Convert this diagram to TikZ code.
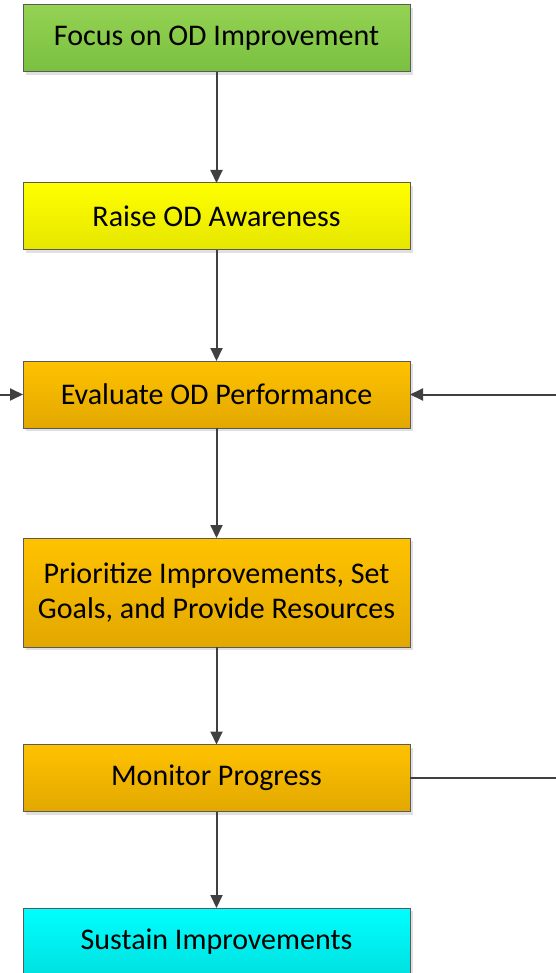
\documentclass[tikz,border=0pt]{standalone}
\usepackage{fontspec}
\setmainfont{Carlito}
\usetikzlibrary{arrows.meta,shadows}

\definecolor{linegray}{HTML}{404040}
\definecolor{edgegray}{HTML}{5A5A5A}

\begin{document}
\begin{tikzpicture}[x=1pt,y=-1pt,
    box/.style={draw=edgegray, line width=1pt, minimum width=387pt, minimum height=67pt,
      inner sep=0pt, align=center, font=\fontsize{30}{35}\selectfont, outer sep=0pt,
      drop shadow={shadow xshift=3pt, shadow yshift=-3pt, fill=black!12, opacity=1}},
    green box/.style={box, top color={rgb,255:red,148;green,210;blue,82}, bottom color={rgb,255:red,122;green,192;blue,64}},
    yellow box/.style={box, top color=yellow, bottom color=yellow!90!black},
    orange box/.style={box, top color={rgb,255:red,255;green,194;blue,0}, bottom color={rgb,255:red,226;green,168;blue,0}},
    cyan box/.style={box, top color=cyan, bottom color=cyan!88!black},
    flow/.style={draw=linegray, line width=2pt, -{Triangle[length=13pt,width=12pt]}}]
      \useasboundingbox (0,0) rectangle (556,973);
      \node[green box] (focus) at (216.5,38.5) {Focus on OD Improvement};
      \node[yellow box] (raise) at (216.5,216.5) {Raise OD Awareness};
      \node[orange box] (evaluate) at (216.5,394.5) {Evaluate OD Performance};
      \node[orange box, minimum height=109pt] (prioritize) at (216.5,592.5) {Prioritize Improvements, Set\\Goals, and Provide Resources};
      \node[orange box] (monitor) at (216.5,778) {Monitor Progress};
      \node[cyan box] (sustain) at (216.5,941.5) {Sustain Improvements};
      % loop back from the monitoring step
      \coordinate (loopin) at (556,394.5);
      \coordinate (loopout) at (556,778);
      \coordinate (leftin) at (0,394.5);
      \draw[flow] (focus) -- (raise);
      \draw[flow] (raise) -- (evaluate);
      \draw[flow] (evaluate) -- (prioritize);
      \draw[flow] (prioritize) -- (monitor);
      \draw[flow] (monitor) -- (sustain);
      \draw[flow] (loopin) -- (evaluate);
      \draw[flow] (leftin) -- (evaluate);
      \draw[draw=linegray, line width=2pt] (monitor) -- (loopout);
    \end{tikzpicture}
\end{document}
